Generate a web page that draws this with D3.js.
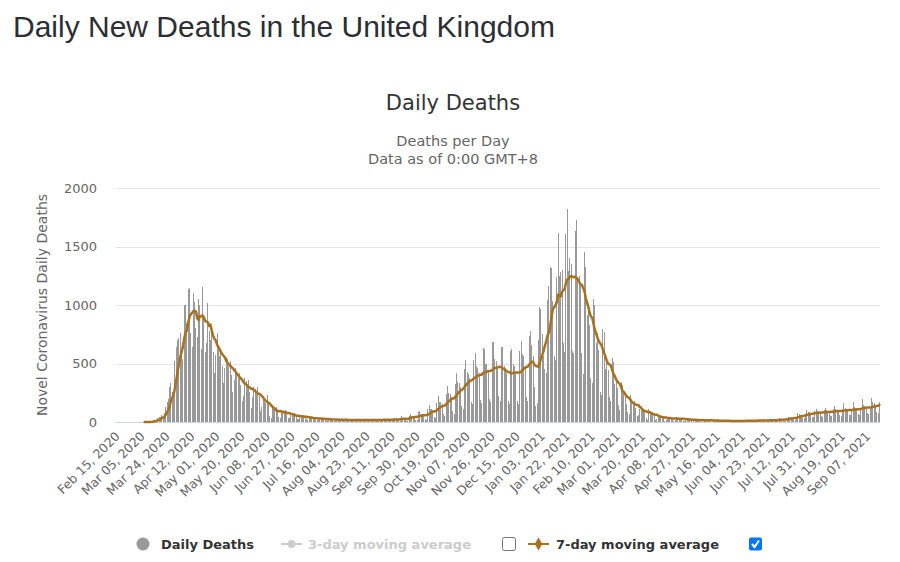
<!DOCTYPE html>
<html>
<head>
<meta charset="utf-8">
<script src="https://cdn.jsdelivr.net/npm/d3@7"></script>
<style>
  html, body { margin: 0; padding: 0; background: #fff; }
  svg text { font-family: "DejaVu Sans", sans-serif; }
</style>
</head>
<body>
<svg id="chart" width="900" height="562"></svg>
<script>
// ---------------- DATA ----------------
const startDate = "2020-02-15";           // first category
const labelEvery = 19;                     // a date label every 19 categories
const yTicks = [0, 500, 1000, 1500, 2000];

// Daily deaths, one value per day from Feb 15, 2020
const dailyDeaths = [
  0,0,0,0,0,0,0,
  0,0,0,0,0,0,0,
  0,0,0,0,0,1,0,
  0,1,1,0,2,1,2,
  10,14,20,16,33,40,43,
  60,50,80,130,170,200,300,
  330,260,240,520,640,700,720,
  760,600,540,1000,1000,850,1140,
  1142,760,640,1100,1028,800,725,
  1050,1000,620,1157,900,600,673,
  1014,780,700,800,600,420,572,
  760,640,560,620,480,330,458,
  558,540,480,520,400,260,360,
  459,420,380,420,320,180,220,
  380,350,300,360,260,120,216,
  300,280,240,300,220,90,130,
  200,180,160,230,160,50,30,
  116,107,102,130,112,47,37,
  94,86,82,105,90,38,30,
  66,61,58,75,64,27,23,
  54,49,47,60,52,22,18,
  40,36,35,44,38,16,13,
  32,30,29,36,31,13,10,
  26,24,23,29,25,11,9,
  24,22,21,27,23,9,7,
  22,21,20,25,22,9,7,
  21,20,19,24,20,8,7,
  21,19,19,25,21,8,6,
  22,21,20,25,22,9,7,
  25,23,22,28,24,10,8,
  27,25,24,31,27,11,9,
  48,36,34,30,12,9,55,
  71,55,50,44,18,14,84,
  90,70,66,58,24,19,107,
  143,115,110,100,40,32,160,
  220,175,167,150,65,50,237,
  310,250,240,215,95,70,325,
  420,345,330,300,140,115,450,
  530,430,410,380,170,150,534,
  587,480,460,420,190,160,630,
  620,500,500,440,200,170,686,
  686,540,520,470,220,180,644,
  640,480,460,420,180,150,610,
  620,500,480,420,180,150,605,
  690,580,560,480,215,180,735,
  780,660,560,300,140,160,700,
  981,964,750,560,454,420,1041,
  1162,1325,1313,1035,563,529,1243,
  1613,1248,1280,1295,671,599,1610,
  1820,1290,1401,1348,610,592,1631,
  1725,1239,1245,1200,587,406,1449,
  1322,915,1014,828,373,333,1052,
  1001,678,758,619,258,230,799,
  772,454,533,445,215,178,548,
  515,323,345,290,144,104,343,
  315,242,236,158,82,65,231,
  190,175,181,121,52,64,110,
  141,95,101,96,33,17,112,
  98,70,63,58,19,23,56,
  52,43,51,40,10,14,45,
  39,40,30,34,8,13,43,
  33,34,32,30,7,6,33,
  26,27,23,21,4,6,26,
  22,22,18,17,4,4,25,
  18,18,15,13,3,4,20,
  16,14,13,11,2,3,18,
  14,11,11,9,2,1,15,
  13,12,10,8,1,2,17,
  15,12,11,10,2,3,17,
  16,14,13,12,4,5,20,
  18,16,14,13,4,5,21,
  23,20,18,17,6,7,28,
  30,26,24,22,8,9,35,
  47,40,39,35,21,19,44,
  78,67,64,58,35,32,72,
  101,86,82,75,45,41,94,
  112,95,91,83,50,46,104,
  118,101,97,88,53,48,110,
  139,109,104,95,57,52,109,
  161,117,112,102,61,56,105,
  175,129,123,112,67,62,116,
  200,144,138,125,75,69,124,
  205,167,160,145,87,80,171
];

// 7-day moving average line, one value per day
const movingAvg7 = [
  null,null,null,null,null,null,null,
  null,null,null,null,null,null,null,
  null,null,null,null,null,null,null,
  null,0.3,0.4,0.4,0.7,0.7,1.0,
  2.4,4.3,7,9.3,13.7,19.3,25.1,
  32,37,46,62,82,105,141,
  180,210,233,289,356,427,487,
  548,597,640,709,760,781,841,
  896,919,933,947,951,944,885,
  872,906,903,911,893,864,857,
  852,820,832,781,738,712,698,
  662,642,622,596,579,566,550,
  521,506,495,481,469,459,445,
  431,414,400,386,374,363,343,
  331,321,310,301,293,284,284,
  272,262,254,245,239,235,223,
  209,194,183,173,164,159,144,
  132,122,113,99,92,92,93,
  90,87,84,81,77,76,75,
  71,67,64,60,56,54,53,
  52,50,48,46,45,44,43,
  41,39,38,35,33,32,32,
  31,30,29,28,27,26,26,
  25,24,23,22,21,21,21,
  21,20,20,20,20,19,19,
  19,19,18,18,18,18,18,
  18,18,18,17,17,17,17,
  17,17,17,17,17,17,17,
  17,17,18,18,18,18,18,
  18,19,19,19,20,20,20,
  20,21,21,21,22,22,22,
  25,27,28,28,26,25,32,
  35,38,40,42,43,44,48,
  51,53,55,57,58,59,62,
  70,76,82,88,91,92,100,
  111,120,128,135,138,141,152,
  165,176,186,195,200,202,215,
  231,244,257,269,276,282,300,
  316,328,339,351,355,360,372,
  380,387,394,400,403,404,418,
  423,426,431,434,436,437,445,
  454,460,463,467,470,472,466,
  459,451,442,435,429,425,420,
  417,420,423,423,423,423,422,
  432,444,455,464,469,473,491,
  504,516,516,490,479,476,471,
  500,544,571,608,653,690,739,
  764,816,896,964,980,995,1024,
  1089,1078,1073,1110,1126,1136,1188,
  1218,1224,1241,1248,1240,1239,1242,
  1228,1221,1199,1177,1174,1148,1122,
  1064,1018,985,932,901,891,834,
  788,754,718,688,671,657,620,
  588,556,524,499,493,485,449,
  413,394,367,345,335,324,295,
  266,255,239,220,211,206,190,
  172,162,155,149,145,145,128,
  121,109,98,94,91,85,85,
  79,75,70,64,62,63,55,
  49,45,43,41,39,38,36,
  35,34,31,30,30,30,30,
  29,28,28,28,27,26,25,
  24,23,22,20,20,20,19,
  18,18,17,16,16,16,16,
  15,15,14,14,14,14,13,
  13,12,12,12,11,11,11,
  11,10,10,10,10,9,9,
  9,9,9,9,9,9,9,
  9,9,9,10,10,10,10,
  10,10,11,11,11,12,12,
  12,13,13,13,13,13,13,
  14,14,15,15,16,16,17,
  18,19,20,20,21,21,22,
  24,26,29,30,32,34,35,
  39,43,47,50,52,54,58,
  61,64,67,69,70,72,75,
  76,78,79,80,81,82,83,
  84,85,86,86,87,87,88,
  91,92,93,94,95,95,95,
  98,99,100,101,102,103,102,
  104,106,107,109,110,110,112,
  116,118,120,122,123,124,125,
  126,129,132,135,137,138,145
];

const pageTitle = "Daily New Deaths in the United Kingdom";
const chartTitle = "Daily Deaths";
const subtitleLines = ["Deaths per Day", "Data as of 0:00 GMT+8"];
const yAxisTitle = "Novel Coronavirus Daily Deaths";
const legendItems = ["Daily Deaths", "3-day moving average", "7-day moving average"];

// ---------------- DRAWING ----------------
const n = dailyDeaths.length;
const parse = d3.timeParse("%Y-%m-%d");
const day0 = parse(startDate);
const categories = d3.range(n).map(i => d3.timeDay.offset(day0, i));
const fmt = d3.timeFormat("%b %d, %Y");

const plot = { left: 115, right: 880, top: 188, bottom: 422 };
const barColor = "#999999";
const lineColor = "#A9701E";
const textDark = "#333333";
const textGrey = "#666666";

const svg = d3.select("#chart");

const x = d3.scaleBand().domain(d3.range(n)).range([plot.left, plot.right]).padding(0);
const y = d3.scaleLinear().domain([0, 2000]).range([plot.bottom, plot.top]);
const cx = i => x(i) + x.bandwidth() / 2;

// page heading
svg.append("text")
  .attr("x", 13).attr("y", 37)
  .style("font-family", "'Liberation Sans', Arial, sans-serif")
  .style("font-size", "30px").attr("fill", "#2b2e33")
  .text(pageTitle);

// chart title & subtitle
svg.append("text").attr("x", 453).attr("y", 110).attr("text-anchor", "middle")
  .style("font-size", "21px").attr("fill", textDark).text(chartTitle);
svg.selectAll(".sub").data(subtitleLines).join("text")
  .attr("class", "sub")
  .attr("x", 453).attr("y", (d, i) => 146 + i * 18).attr("text-anchor", "middle")
  .style("font-size", "14.5px").attr("fill", textGrey).text(d => d);

// gridlines
svg.append("g").selectAll("line").data(yTicks.filter(t => t > 0)).join("line")
  .attr("x1", plot.left).attr("x2", plot.right)
  .attr("y1", d => Math.round(y(d)) + 0.5).attr("y2", d => Math.round(y(d)) + 0.5)
  .attr("stroke", "#e6e6e6").attr("stroke-width", 1);

// y axis (labels only)
const yAxis = svg.append("g")
  .attr("transform", `translate(${plot.left - 18},0)`)
  .call(d3.axisLeft(y).tickValues(yTicks).tickSize(0).tickPadding(0).tickFormat(d3.format("d")));
yAxis.select(".domain").remove();
yAxis.selectAll("text")
  .style("font-family", "'DejaVu Sans', sans-serif")
  .style("font-size", "13px").attr("fill", textGrey);

// y axis title
svg.append("text")
  .attr("transform", `translate(47,${(plot.top + plot.bottom) / 2})`+" rotate(-90)")
  .attr("text-anchor", "middle")
  .style("font-size", "14px").attr("fill", textGrey).text(yAxisTitle);

// bars
svg.append("g").attr("shape-rendering", "crispEdges")
  .selectAll("rect").data(dailyDeaths).join("rect")
  .attr("x", (d, i) => cx(i) - 0.5)
  .attr("width", 1)
  .attr("y", d => y(d))
  .attr("height", d => y(0) - y(d))
  .attr("fill", barColor);

// x axis
const xTickIdx = d3.range(0, n, labelEvery);
const xAxis = svg.append("g")
  .attr("transform", `translate(0,${plot.bottom})`)
  .call(d3.axisBottom(x).tickValues(xTickIdx).tickSize(0).tickFormat(i => fmt(categories[i])));
xAxis.select(".domain").attr("stroke", "#ccd6eb").attr("d", `M${plot.left},0.5H${plot.right}`);
xAxis.selectAll("text")
  .style("font-family", "'DejaVu Sans', sans-serif")
  .style("font-size", "12.5px").attr("fill", textGrey)
  .attr("text-anchor", "end")
  .attr("dy", null)
  .attr("transform", "translate(5,15) rotate(-45)")
  .attr("y", 0).attr("x", 0);

// 7-day moving average line
const line = d3.line()
  .defined(d => d != null)
  .x((d, i) => cx(i))
  .y(d => y(d));
svg.append("path")
  .datum(movingAvg7)
  .attr("d", line)
  .attr("fill", "none")
  .attr("stroke", lineColor)
  .attr("stroke-width", 2.5)
  .attr("stroke-linejoin", "round")
  .attr("stroke-linecap", "round");

// legend
const lg = svg.append("g");
const ly = 544;
lg.append("circle").attr("cx", 143).attr("cy", ly).attr("r", 6.5).attr("fill", barColor);
lg.append("text").attr("x", 161).attr("y", ly + 5).style("font-size", "13px").style("font-weight", "bold")
  .attr("fill", textDark).text(legendItems[0]);

lg.append("line").attr("x1", 281).attr("x2", 302).attr("y1", ly).attr("y2", ly)
  .attr("stroke", "#cccccc").attr("stroke-width", 2);
lg.append("circle").attr("cx", 291.5).attr("cy", ly).attr("r", 4).attr("fill", "#cccccc");
lg.append("text").attr("x", 308).attr("y", ly + 5).style("font-size", "13px").style("font-weight", "bold")
  .attr("fill", "#cccccc").text(legendItems[1]);
// unchecked checkbox
lg.append("rect").attr("x", 502.5).attr("y", ly - 6.5).attr("width", 13).attr("height", 13).attr("rx", 2)
  .attr("fill", "#fff").attr("stroke", "#767676").attr("stroke-width", 1);

lg.append("line").attr("x1", 528).attr("x2", 549).attr("y1", ly).attr("y2", ly)
  .attr("stroke", lineColor).attr("stroke-width", 2);
lg.append("path").attr("d", d3.symbol(d3.symbolDiamond, 50)()).attr("transform", `translate(538.5,${ly})`)
  .attr("fill", lineColor);
lg.append("text").attr("x", 556).attr("y", ly + 5).style("font-size", "13px").style("font-weight", "bold")
  .attr("fill", textDark).text(legendItems[2]);
// checked checkbox
lg.append("rect").attr("x", 749).attr("y", ly - 6.5).attr("width", 13).attr("height", 13).attr("rx", 2)
  .attr("fill", "#0075ff");
lg.append("path").attr("d", `M752,${ly} L754.5,${ly + 3} L759,${ly - 3.5}`)
  .attr("fill", "none").attr("stroke", "#fff").attr("stroke-width", 2);
</script>
</body>
</html>
